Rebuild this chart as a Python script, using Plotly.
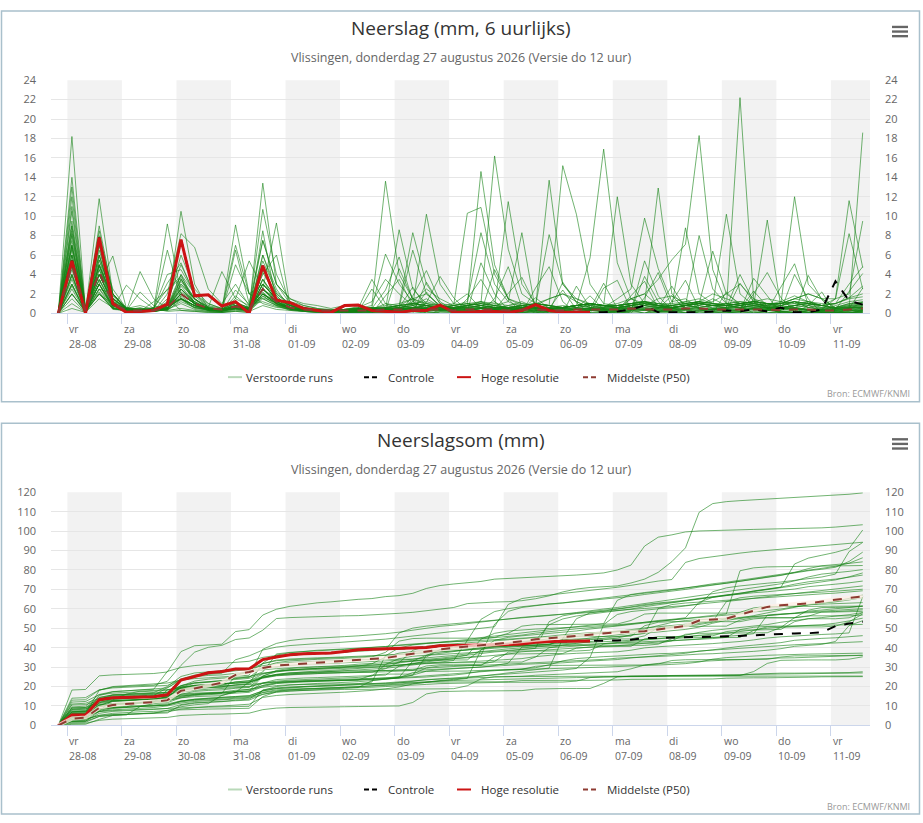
import numpy as np
import pandas as pd
import plotly.graph_objects as go

W, H = 923, 823

# tijdstappen (6 uurlijks, lokale tijd) en dagen op de x-as
tijden = pd.date_range("2026-08-27 20:00", periods=60, freq="6h")
dagen = pd.date_range("2026-08-28", periods=15, freq="D")
dag_namen = ["vr", "za", "zo", "ma", "di", "wo", "do", "vr", "za", "zo", "ma", "di", "wo", "do", "vr"]
dag_datums = [d.strftime("%d-%m") for d in dagen]

# hoge resolutie loopt 10 dagen (40 stappen)
hoge_resolutie = [0, 5.4, 0, 7.8, 1.0, 0.1, 0.2, 0.3, 0.95, 7.6, 1.8, 1.9, 0.75, 1.2, 0, 4.9, 1.35, 1.1, 0.5, 0.3,
                  0.1, 0.8, 0.85, 0.3, 0.2, 0.1, 0.3, 0.3, 0.85, 0.1, 0.1, 0.2, 0.2, 0.1, 0.3, 0.9, 0.3, 0.1, 0.1, 0.1]
# controle valt samen met hoge resolutie, daarna alleen controle
controle_staart = [0.1, 0.2, 0.4, 0.8, 0.1, 0.1, 0.1, 0.1, 0.2, 0.3, 0.2, 0.4, 0.2, 0.6, 0.1, 0.1, 0.4, 3.3, 1.3, 0.9]
controle = hoge_resolutie + controle_staart

middelste = [0, 5, 0.2, 4.3, 1, 0.3, 0.3, 0.3, 0.6, 2, 1, 0.5, 0.4, 0.7, 0.4, 2.5, 1.2, 0.6, 0.4, 0.3,
             0.3, 0.3, 0.3, 0.3, 0.4, 0.4, 0.4, 0.4, 0.4, 0.3, 0.4, 0.4, 0.4, 0.3, 0.4, 0.4, 0.3, 0.3, 0.4, 0.4,
             0.4, 0.4, 0.5, 0.4, 0.4, 0.4, 0.5, 0.5, 0.4, 0.4, 0.4, 0.4, 0.4, 0.3, 0.4, 0.4, 0.3, 0.3, 0.4, 0.5]
middelste_som = [0, 3.5, 4, 9, 10.5, 11, 11.5, 12, 13, 17.8, 19, 20.5, 22, 26, 27.5, 29.5, 30.8, 31.3, 31.8, 32.2,
                 32.8, 33.2, 33.6, 34.1, 34.7, 35.8, 37, 38.2, 39.1, 39.9, 40.6, 41.3, 41.9, 42.5, 43.3, 44.3, 44.9, 45.6, 46.2, 46.8,
                 47.4, 47.9, 48.2, 48.5, 49.4, 50.3, 51.2, 54, 54.6, 55, 57, 59, 61, 61.8, 62.3, 62.8, 63.8, 64.8, 65.6, 66.4]

# verstoorde runs (ensembleleden), mm per 6 uur
run_01 = [0, 18.2, 0.3, 7, 0.5, 0.3, 0.2, 0.2, 0.8, 10.5, 3, 0.5, 0.3, 6.5, 1, 7.5, 3, 1.5, 1, 0.8, 0.5, 0.8, 0.5, 0.4, 1, 0.5, 1.2, 2.5, 1.5, 0.8, 0.5, 0.8, 1.2, 0.3, 0.5, 0.2, 0.4, 0.3, 0.4, 0.5, 0.6, 1.5, 2.5, 9.8, 4.6, 1.2, 1.5, 0.5, 0.3, 0.2, 0.1, 0.2, 0.1, 0.1, 0.3, 0.1, 0.2, 0.4, 0.5, 0.7]
run_02 = [0, 13, 0.2, 5, 1.5, 0.5, 0.3, 0.2, 2, 8.2, 6.8, 2.5, 1, 3, 0.8, 4, 6, 0.5, 0.3, 0.2, 0.2, 0.2, 0.1, 0.3, 0.4, 0.5, 0.5, 0.8, 0.7, 1, 2, 0.5, 0.3, 0.2, 0.5, 1, 1.5, 2, 1.5, 0.8, 0.5, 0.3, 1.5, 2, 3.5, 5.5, 7.1, 18.3, 4.5, 1, 0.5, 0.4, 0.3, 0.3, 0.5, 0.3, 0.4, 0.5, 0.6, 0.7]
run_03 = [0, 3, 0.1, 2, 0.5, 0.2, 0.3, 0.2, 1.5, 0.3, 0.2, 0.1, 0.1, 0.2, 0.1, 6, 2.5, 0.5, 0.3, 0.2, 0.1, 0.1, 0, 0.1, 0.1, 0, 0, 0.1, 0, 0.1, 1.5, 3.5, 1.2, 0, 0.1, 0, 0, 0, 0.1, 0, 0, 0, 0, 0, 0.1, 0, 0, 0, 0, 0, 0, 0, 0, 0, 0, 0, 0, 0, 0, 0]
run_04 = [0, 2, 0.2, 4, 1, 0.5, 0.2, 0.3, 0.5, 2, 1, 0.3, 0.2, 0.5, 0.3, 3, 1.5, 0.8, 0.4, 0.3, 0.2, 0.3, 0.5, 0.2, 0.3, 0.4, 0.6, 0.8, 0.5, 0.3, 0.2, 0.1, 0.1, 0.2, 0.1, 0.3, 0.2, 0.1, 0.2, 0.1, 0.1, 0.1, 0.2, 0.3, 0.2, 0.1, 0.1, 0.3, 0.2, 0.1, 0, 0.1, 0, 0.1, 0.1, 0, 0.1, 0.1, 0, 0.1]
run_05 = [0, 4, 0.1, 3, 0.5, 0.3, 0.2, 0.5, 0.2, 0.3, 0.2, 0.1, 0.1, 0.2, 0.1, 8.5, 1, 0.5, 0.2, 0.1, 0.2, 0.1, 0.3, 0.2, 0.4, 0.5, 1, 0.8, 0.3, 0.2, 0.4, 0.3, 0.2, 0.1, 0.2, 0.5, 0.3, 0.2, 0.1, 0.3, 0.4, 0.5, 1.5, 2, 0.8, 0.4, 0.3, 0.2, 0.5, 0.3, 0.2, 0.4, 0.3, 0.2, 0.1, 0.3, 0.2, 0.2, 0.3, 0.3]
run_06 = [0, 6, 0.2, 5.5, 1, 0.3, 0.4, 0.2, 1, 1.5, 0.5, 0.3, 0.2, 1, 0.4, 2, 1.2, 0.6, 0.4, 0.2, 0.1, 0.2, 0.2, 0.1, 0.5, 0.3, 0.2, 0.4, 0.6, 0.4, 0.8, 1.2, 0.5, 0.3, 0.2, 0.1, 0.2, 0.1, 0.2, 0.3, 0.2, 0.2, 0.3, 0.4, 0.2, 0.3, 0.4, 0.8, 1.5, 0.8, 0.5, 0.3, 0.4, 0.2, 0.3, 0.1, 0.1, 0.1, 0.1, 0.2]
run_07 = [0, 1.5, 0.1, 3, 0.8, 0.2, 0.1, 0.3, 0.4, 4, 1, 0.5, 0.3, 0.8, 0.5, 4.5, 2, 0.8, 0.5, 0.3, 0.2, 0.3, 0.4, 0.6, 0.5, 0.8, 1.5, 2, 0.8, 0.5, 0.4, 0.3, 0.6, 0.5, 0.4, 0.3, 0.2, 0.3, 0.5, 0.4, 0.3, 0.5, 0.8, 0.6, 0.4, 0.6, 0.8, 1.2, 0.5, 0.4, 0.3, 0.5, 0.6, 0.4, 0.5, 0.3, 0.4, 0.2, 0.3, 0.4]
run_08 = [0, 8, 0.3, 4.5, 1.5, 0.5, 0.3, 0.2, 0.8, 3, 1.5, 0.4, 0.2, 0.5, 0.3, 2.5, 1.2, 0.5, 0.3, 0.2, 0.1, 0.1, 0.2, 0.3, 0.2, 0.3, 0.5, 0.4, 0.2, 0.3, 0.2, 0.5, 0.8, 1.2, 8.3, 0.3, 0.2, 0.2, 0.4, 0.5, 0.3, 0.2, 0.4, 0.3, 0.2, 0.2, 0.3, 0.5, 0.4, 0.6, 4, 1.2, 0.5, 0.2, 0.1, 0.2, 0.1, 0.1, 0.1, 0.2]
run_09 = [0, 10.5, 0.2, 2, 0.5, 2.9, 1.5, 0.5, 0.3, 0.5, 0.3, 0.2, 0.1, 0.4, 0.2, 1.5, 0.8, 0.4, 0.2, 0.3, 0.2, 0.2, 0.1, 0.2, 0.3, 0.4, 0.3, 0.5, 0.4, 0.5, 0.7, 0.6, 0.4, 0.3, 0.5, 0.8, 1.5, 2, 1.2, 0.6, 0.4, 0.3, 0.5, 0.4, 0.3, 0.2, 0.4, 0.6, 0.8, 1, 0.8, 0.6, 0.5, 0.8, 1.2, 0.6, 0.4, 0.3, 0.5, 0.6]
run_10 = [0, 5, 0.1, 8.5, 2, 0.4, 0.3, 0.2, 0.5, 2.5, 1, 0.4, 0.3, 1.2, 0.5, 3.5, 1.5, 0.8, 0.4, 0.2, 0.2, 0.3, 0.2, 0.4, 0.3, 0.5, 0.4, 0.3, 0.2, 0.2, 0.3, 0.5, 0.4, 0.3, 0.6, 1, 0.8, 0.5, 0.4, 0.3, 0.2, 0.3, 0.8, 1.2, 0.6, 0.5, 0.4, 0.3, 0.4, 0.5, 0.6, 0.8, 1, 0.6, 0.5, 0.4, 0.3, 0.3, 0.5, 18.6]
run_11 = [0, 3.5, 0.2, 6, 1.2, 0.3, 0.2, 0.4, 6.5, 1.5, 0.8, 0.4, 0.3, 0.6, 0.4, 2, 1.2, 0.5, 0.3, 0.2, 0.3, 0.4, 0.5, 0.3, 0.2, 0.3, 0.4, 0.6, 0.5, 0.4, 0.3, 0.2, 0.3, 0.4, 0.5, 0.3, 0.2, 0.3, 0.2, 0.4, 0.5, 0.6, 0.4, 0.3, 0.2, 0.3, 0.5, 0.4, 0.2, 0.3, 0.4, 0.5, 0.6, 0.8, 1.2, 0.6, 0.4, 1.5, 8.2, 2.5]
run_12 = [0, 7, 0.3, 4, 1, 0.5, 0.4, 0.3, 1.2, 5, 2, 0.6, 0.4, 1.5, 0.8, 2.5, 9.3, 0.8, 0.5, 0.4, 0.3, 0.3, 0.4, 0.5, 0.6, 0.8, 0.6, 0.4, 0.3, 0.4, 0.5, 0.3, 0.2, 0.3, 0.4, 0.5, 0.6, 0.8, 0.6, 0.4, 0.3, 0.4, 0.5, 0.8, 1.5, 1.8, 1, 0.5, 0.4, 0.3, 0.4, 0.5, 0.4, 0.5, 0.6, 0.8, 0.5, 0.3, 0.4, 0.5]
run_13 = [0, 4.5, 0.2, 5, 0.8, 0.5, 0.8, 0.4, 0.3, 3.5, 1.5, 0.5, 0.3, 0.8, 0.4, 6, 2, 1, 0.6, 0.3, 0.2, 0.3, 0.6, 1.2, 3.5, 2, 0.8, 0.4, 0.3, 0.4, 0.3, 0.5, 0.6, 0.4, 0.3, 0.2, 0.3, 0.4, 0.5, 0.3, 0.2, 0.3, 0.4, 0.5, 0.3, 0.4, 0.6, 0.8, 0.5, 0.6, 0.8, 1, 0.7, 0.5, 0.6, 0.4, 0.3, 0.8, 1.2, 1.4]
run_14 = [0, 9, 0.2, 3, 0.6, 0.2, 0.3, 0.2, 0.8, 6, 2.5, 1, 0.5, 0.5, 0.3, 1.8, 0.9, 0.4, 0.3, 0.2, 0.2, 0.3, 0.2, 0.4, 0.5, 0.6, 0.8, 1.5, 0.7, 0.5, 0.4, 0.6, 0.5, 0.8, 1.2, 0.6, 0.4, 0.5, 0.4, 0.3, 0.4, 0.5, 0.6, 0.8, 0.6, 0.5, 0.4, 0.6, 0.8, 0.5, 0.6, 0.8, 9.6, 0.6, 0.4, 0.3, 0.2, 0.3, 0.4, 0.5]
run_15 = [0, 2.5, 0.1, 9, 2, 0.4, 0.3, 0.3, 0.5, 2, 1, 0.5, 0.4, 0.5, 0.3, 2, 1, 0.5, 0.3, 0.2, 0.2, 0.3, 0.4, 0.6, 6.1, 3, 1.2, 0.5, 0.4, 0.3, 0.4, 0.5, 0.4, 0.5, 0.6, 0.5, 0.4, 0.3, 0.4, 0.6, 0.5, 0.6, 0.8, 0.6, 0.5, 0.8, 1.2, 1.5, 1, 0.8, 0.6, 0.7, 0.9, 1.2, 1, 0.8, 0.6, 0.6, 0.9, 1.1]
run_16 = [0, 12, 0.3, 3.5, 0.8, 0.4, 0.2, 0.3, 0.5, 1.5, 0.8, 0.4, 0.3, 5, 2, 1.5, 0.8, 0.6, 0.4, 0.3, 0.2, 0.2, 0.3, 0.3, 0.4, 0.5, 0.6, 0.8, 0.5, 0.6, 0.8, 1.2, 0.8, 0.6, 0.5, 0.4, 0.5, 0.6, 0.8, 1, 0.8, 1, 1.5, 1, 0.6, 0.5, 0.8, 1.2, 2, 1.5, 1, 0.8, 0.6, 0.5, 0.8, 1, 0.6, 0.5, 0.6, 0.8]
run_17 = [0, 6.5, 0.2, 6, 1.5, 0.3, 0.4, 0.5, 4, 4.5, 2, 0.8, 0.5, 1, 0.6, 3, 1.5, 0.5, 0.4, 0.3, 0.2, 0.3, 0.2, 0.4, 0.3, 0.4, 0.5, 0.6, 0.4, 0.5, 0.6, 0.8, 0.6, 0.5, 0.6, 0.8, 0.5, 0.6, 0.8, 0.9, 0.7, 0.8, 1, 1.2, 0.8, 0.6, 0.8, 1, 1.2, 2, 3, 1.5, 1, 0.6, 0.5, 0.4, 0.3, 0.2, 0.3, 0.3]
run_18 = [0, 5.5, 0.2, 4.5, 1, 0.3, 0.5, 0.4, 0.6, 2, 1, 0.5, 0.3, 0.6, 0.4, 7.5, 3, 1, 0.5, 0.3, 0.2, 0.2, 0.3, 0.3, 0.5, 0.6, 6.5, 2, 0.8, 0.5, 0.4, 0.6, 0.5, 0.4, 0.5, 0.6, 0.5, 0.4, 0.6, 0.5, 0.6, 0.8, 1, 0.8, 0.6, 0.5, 0.8, 1, 0.8, 0.6, 0.8, 1.2, 1.5, 1.2, 1.8, 1.2, 0.8, 0.6, 1, 1.2]
run_19 = [0, 3, 0.1, 7, 2.5, 0.5, 0.3, 0.2, 0.4, 1.2, 0.6, 0.4, 0.3, 9.1, 2, 1, 0.6, 0.5, 0.3, 0.2, 0.3, 0.4, 0.6, 0.5, 0.3, 0.4, 0.3, 0.5, 0.6, 0.8, 1.2, 8.3, 3, 1.2, 0.6, 0.4, 0.3, 0.3, 0.4, 0.5, 0.3, 0.4, 0.6, 0.8, 0.5, 0.6, 0.8, 0.6, 0.4, 0.5, 0.8, 1, 0.7, 0.8, 1.2, 1, 0.8, 1, 1.5, 1.7]
run_20 = [0, 14, 0.3, 4, 1, 0.3, 0.2, 0.3, 0.5, 3, 1.5, 0.6, 0.3, 0.8, 0.5, 4.5, 1.8, 0.6, 0.4, 0.2, 0.2, 0.2, 0.3, 0.4, 0.3, 0.4, 0.5, 0.4, 0.3, 0.4, 0.5, 0.6, 0.4, 0.5, 0.6, 0.5, 0.4, 0.6, 0.8, 1, 0.8, 0.6, 0.8, 1, 12.9, 2, 0.8, 0.5, 0.4, 0.5, 0.6, 0.5, 0.4, 0.5, 0.6, 0.4, 0.3, 0.4, 0.6, 0.6]
run_21 = [0, 2, 0.1, 2.5, 0.5, 0.3, 4.3, 1.5, 0.5, 2.5, 1.2, 0.4, 0.3, 0.5, 0.4, 3, 1.5, 0.5, 0.3, 0.3, 0.2, 0.3, 0.4, 0.5, 0.4, 0.6, 0.8, 10.2, 3, 1, 0.8, 0.6, 0.5, 0.6, 0.8, 0.6, 0.5, 0.6, 0.8, 1, 0.8, 0.6, 0.5, 0.4, 0.6, 0.8, 1, 1.2, 0.8, 10.2, 2, 0.8, 0.5, 0.4, 0.5, 0.4, 0.3, 0.4, 0.5, 0.6]
run_22 = [0, 7.5, 0.2, 5.5, 2, 0.3, 0.2, 0.4, 0.8, 3.5, 1.5, 0.6, 0.4, 0.8, 0.5, 2.5, 1.2, 0.6, 0.4, 0.3, 0.3, 0.4, 0.5, 0.4, 0.6, 0.8, 1, 0.8, 0.6, 0.8, 1, 0.8, 0.6, 0.5, 0.8, 0.6, 13.7, 3, 1.2, 0.6, 0.4, 0.5, 0.6, 0.5, 0.4, 0.5, 0.6, 0.8, 0.6, 0.6, 0.8, 1, 0.8, 0.6, 0.8, 1, 0.8, 0.5, 0.8, 1]
run_23 = [0, 4, 0.3, 3, 5.9, 0.5, 0.4, 0.6, 0.8, 2.5, 1, 0.5, 0.4, 1, 0.6, 10.7, 4, 1.2, 0.8, 0.5, 0.3, 0.3, 0.4, 0.5, 0.4, 0.5, 0.6, 0.5, 0.4, 0.5, 0.6, 0.8, 0.6, 0.6, 0.8, 1, 0.8, 0.6, 0.8, 0.6, 0.5, 0.6, 0.8, 1, 0.8, 0.6, 0.8, 8, 2.5, 1, 0.8, 0.6, 0.5, 0.6, 0.8, 1.2, 0.8, 0.5, 0.7, 0.9]
run_24 = [0, 9.5, 0.4, 6, 1.5, 0.4, 0.3, 0.5, 9.2, 2, 1, 0.5, 0.4, 0.8, 0.5, 2, 1, 0.5, 0.4, 0.3, 0.2, 0.3, 0.4, 0.5, 0.4, 8.6, 2.5, 1, 0.6, 0.5, 0.6, 0.8, 0.6, 0.5, 0.6, 0.8, 0.6, 0.5, 0.6, 0.8, 0.6, 0.8, 1, 1.2, 0.8, 0.6, 0.8, 1, 0.8, 0.8, 1, 1.2, 1, 1, 1.5, 1.2, 0.8, 0.6, 1, 1.1]
run_25 = [0, 6, 0.2, 11.8, 2, 0.5, 0.4, 0.3, 0.6, 1.5, 0.8, 0.4, 0.3, 0.6, 0.4, 13.4, 3, 1.5, 0.8, 0.5, 0.4, 0.3, 0.4, 0.5, 0.6, 0.8, 1, 1.2, 0.8, 0.6, 0.8, 1, 0.8, 0.6, 0.8, 0.6, 0.5, 0.6, 0.8, 1, 0.8, 0.8, 1, 1.2, 1, 0.8, 1, 1.2, 1, 0.8, 1, 1.2, 1, 1, 1.5, 2, 1.5, 0.6, 0.8, 0.9]
run_26 = [0, 5, 0.1, 3.5, 1, 0.3, 0.2, 0.4, 0.6, 1.5, 0.6, 0.4, 0.3, 0.5, 0.4, 2, 1, 0.5, 0.4, 0.3, 0.2, 0.3, 0.4, 0.5, 0.4, 0.5, 0.6, 0.5, 0.4, 0.6, 0.8, 14.6, 5, 1.5, 0.8, 0.6, 0.5, 0.6, 0.8, 1, 0.8, 0.6, 0.8, 1, 0.8, 0.6, 0.8, 1, 0.8, 0.6, 22.2, 1.5, 0.5, 0.1, 0.1, 0.1, 0.1, 0.1, 0.1, 0.1]
run_27 = [0, 3, 0.2, 2, 1, 0.5, 0.3, 0.2, 0.4, 2, 1, 0.6, 4.3, 1.5, 5.4, 2.5, 1, 0.6, 0.4, 0.3, 0.3, 0.4, 0.5, 0.4, 0.6, 0.8, 1, 0.8, 0.6, 0.8, 10.3, 10.9, 4, 1.5, 1, 0.8, 0.6, 0.5, 0.6, 0.8, 0.6, 0.6, 0.8, 1, 0.8, 0.8, 1, 1.2, 1, 1, 1.2, 1, 0.8, 1, 1.5, 2, 1.5, 0.5, 0.7, 0.8]
run_28 = [0, 8.5, 0.3, 4, 1.2, 0.4, 0.3, 0.2, 0.5, 2.5, 1.2, 0.5, 0.3, 0.8, 0.5, 3.5, 1.5, 0.8, 0.6, 0.4, 0.3, 0.4, 0.5, 0.6, 0.5, 0.6, 0.8, 1, 0.8, 0.6, 0.8, 1, 16.2, 6.6, 2, 1, 0.8, 0.6, 0.8, 1, 0.8, 0.6, 0.8, 1, 0.8, 0.8, 1, 1.2, 1, 0.8, 1, 1.2, 1, 0.8, 1, 1.2, 1, 1, 1.6, 2.8]
run_29 = [0, 2, 0.2, 5, 1.5, 0.6, 0.4, 0.3, 0.5, 2, 1, 0.5, 0.3, 0.6, 0.4, 2.5, 1.2, 0.6, 0.4, 0.3, 0.3, 0.4, 0.5, 0.8, 13.6, 4, 1.5, 0.8, 0.6, 0.6, 0.8, 1, 0.8, 0.6, 0.8, 1, 0.8, 0.6, 0.8, 1, 0.8, 12, 3, 1, 0.8, 0.6, 0.8, 1, 0.8, 0.8, 1, 1.2, 1, 1, 1.2, 1, 0.8, 1, 3, 4.8]
run_30 = [0, 7, 0.3, 8, 2, 0.5, 0.4, 0.3, 0.8, 4, 2, 1, 0.5, 7, 2, 3, 1.5, 0.8, 0.6, 0.4, 0.3, 0.4, 0.5, 0.6, 0.5, 0.8, 1, 0.8, 0.6, 0.8, 1, 0.8, 0.6, 11.5, 3, 1, 0.8, 0.6, 0.8, 1, 0.8, 0.8, 1, 1.2, 1, 0.8, 8.8, 2, 1, 0.8, 1, 0.8, 0.6, 0.6, 0.8, 0.6, 0.5, 0.5, 0.6, 0.6]
run_31 = [0, 4, 0.2, 3, 0.8, 0.4, 0.3, 0.5, 0.8, 1.5, 0.8, 0.4, 0.3, 0.6, 0.4, 2, 1, 0.6, 0.4, 0.3, 0.3, 0.4, 0.5, 3.5, 1, 0.8, 8.3, 3, 1, 0.8, 1, 1.2, 1, 0.8, 1, 0.8, 8.1, 3, 1.5, 1, 0.8, 0.8, 1, 1.2, 1, 1, 1.2, 1, 0.8, 1, 1.2, 1, 0.8, 1, 12, 3, 1.5, 1.5, 2, 9.5]
run_32 = [0, 0.5, 0.1, 2.5, 2, 0.5, 0.3, 0.4, 0.6, 1.5, 0.8, 0.5, 0.3, 0.5, 0.4, 3.5, 1, 0.5, 0.4, 0.3, 0.2, 0.3, 0.4, 0.5, 0.8, 1, 1.5, 1, 0.8, 0.6, 0.8, 1, 0.8, 0.6, 0.8, 1, 0.8, 15.2, 10.2, 3, 1, 0.8, 1, 1.2, 0.8, 0.6, 0.8, 1, 0.8, 0.8, 1, 1.2, 1, 1, 1.2, 1, 0.8, 1, 1.6, 2]
run_33 = [0, 6, 0.2, 2, 0.8, 0.4, 0.3, 0.2, 0.5, 2, 1, 0.5, 0.3, 0.6, 0.4, 2.5, 1.2, 0.5, 0.4, 0.3, 0.2, 0.3, 0.4, 0.5, 0.4, 0.5, 0.6, 0.5, 0.4, 0.5, 0.6, 0.5, 0.4, 0.5, 0.6, 0.5, 0.4, 0.6, 0.8, 5.7, 16.9, 5.2, 1.5, 0.8, 0.6, 0.6, 0.8, 1, 6.4, 2, 1, 0.8, 0.6, 0.6, 0.8, 1, 0.8, 1.5, 11.6, 4.7]
run_34 = [0, 5.5, 0.1, 4, 1.2, 0.2, 0.5, 0.3, 0.6, 2.2, 1.2, 0.5, 0.3, 0.7, 0.3, 3, 1.4, 0.6, 0.3, 0.2, 0.1, 0, 0.2, 2.5, 0.5, 0, 0, 3.2, 1, 0.2, 0, 0, 4.5, 1.5, 0, 0.2, 0, 0, 2.8, 0.6, 0, 0, 0.3, 3.8, 1.2, 0, 0, 0.4, 0, 2.2, 0.8, 0, 0, 0.3, 4, 1.5, 0, 0, 0.5, 2.6]
run_35 = [0, 7, 0.2, 3, 0.8, 0.4, 0.2, 0.6, 2.5, 3.8, 1.5, 0.4, 0.2, 1.8, 0.6, 2.2, 0.9, 0.5, 0.4, 0.2, 0.1, 0.1, 0, 0, 1.8, 3.5, 0.8, 0, 0, 0, 0.2, 5.2, 2, 0.3, 0, 0, 0.5, 2.4, 0.4, 0, 0, 0, 0, 1.6, 4.2, 0.6, 0, 0, 0, 0.2, 3.1, 1.2, 0, 0, 0, 0.8, 2.2, 0, 0, 0.3]
run_36 = [0, 1, 0.1, 1.5, 0.6, 0.2, 0.1, 0.2, 0.4, 1, 0.4, 0.2, 0.1, 0.3, 0.2, 1.8, 0.8, 0.3, 0.2, 0.1, 0.1, 0, 0.1, 0.2, 0.1, 0, 1.8, 4.4, 1.2, 0.3, 0, 0, 0, 0, 0.2, 0.8, 0.3, 0, 0, 0, 2.6, 3.4, 0.4, 0, 0, 0, 0, 0.2, 0.1, 0, 0, 2, 4.2, 1.6, 0.2, 0, 0, 0, 0.4, 1.2]
run_37 = [0, 11, 0.4, 2.5, 0.9, 0.3, 0.6, 0.2, 0.5, 2.8, 1.1, 0.5, 0.4, 0.6, 0.5, 2.4, 1.6, 0.8, 0.3, 0.2, 0.2, 0.2, 0.1, 0, 0, 0, 0.3, 2.2, 0.6, 0, 0, 0.2, 1.5, 4.8, 0.6, 0, 0, 0, 0, 0.4, 3.1, 0.5, 0, 0, 0, 1.2, 3.4, 0.5, 0, 0, 0, 0, 0.3, 2.7, 5.1, 0.9, 0, 0, 0, 0.4]
run_38 = [0, 3.8, 0.2, 6.5, 1.8, 0.6, 0.3, 0.2, 0.4, 1.8, 0.7, 0.3, 0.2, 0.5, 0.3, 4.2, 1.8, 0.5, 0.3, 0.2, 0.2, 0.2, 0.4, 0.3, 0.2, 4.6, 1.5, 0.2, 0, 0, 0, 0.1, 0.3, 0, 0, 2.6, 4.8, 1.2, 0, 0, 0, 0, 0, 0, 0.6, 2.8, 0.5, 0, 0, 0, 0.2, 3.6, 1.8, 0, 0, 0, 0, 0.4, 2.2, 4.1]
run_39 = [0, 9, 0.2, 5, 1.6, 0.4, 0.3, 0.4, 3.1, 5.2, 1.8, 0.6, 0.3, 0.8, 0.4, 1.6, 1.1, 0.6, 0.4, 0.3, 0.2, 0.3, 0.2, 0.1, 0, 0, 0.2, 1.1, 3.8, 1.6, 0.2, 0, 0, 0, 0, 0.4, 0.2, 3.2, 1.1, 0, 0, 0, 0.2, 5.4, 1.8, 0.3, 0, 0, 0, 0, 0, 1.4, 0.6, 0, 0, 3.9, 1.4, 0, 0.2, 0.6]
run_40 = [0, 4.8, 0.3, 3.4, 0.7, 0.3, 2.2, 0.8, 0.3, 1.4, 0.6, 0.3, 0.2, 2.4, 0.9, 1.2, 0.7, 0.4, 0.2, 0.1, 0.1, 0, 0, 0.1, 0.2, 0.5, 0.2, 0, 0, 0, 0, 0, 0, 0.2, 0.6, 0.1, 0, 0, 0, 0, 0, 0.2, 0.3, 0, 0, 0, 0, 0, 0.2, 0.4, 0.2, 0, 0, 0, 0, 0.3, 0.2, 0, 0, 0.1]
run_41 = [0, 6.8, 0.1, 7.6, 1.1, 0.2, 0.4, 0.3, 0.7, 3.3, 1.4, 0.7, 0.4, 1.1, 0.6, 5.4, 2.2, 0.9, 0.5, 0.3, 0.2, 0.2, 0.3, 0.5, 2.4, 5.8, 1.3, 0.2, 0, 0, 0, 0, 0.4, 2.1, 3.7, 0.8, 0, 0, 0, 0, 0, 0.3, 1.8, 3.3, 0.5, 0, 0, 0, 0, 0, 0.4, 2.3, 0.7, 0, 0, 0, 0, 0, 0, 0.2]
run_42 = [0, 2.8, 0.2, 4.8, 1.3, 0.4, 0.2, 0.3, 0.5, 1.6, 0.8, 0.3, 0.2, 0.6, 0.4, 2.6, 1.3, 0.4, 0.3, 0.2, 0.1, 0, 0.1, 0.2, 0.4, 0.3, 0.2, 0.6, 0.4, 0.2, 0, 0.3, 0.2, 0, 0, 0, 0.1, 0, 0.5, 1.8, 0.4, 0, 0, 0, 0.2, 0.3, 0.1, 0, 0, 0, 0.2, 0.6, 0.3, 0.2, 0, 0, 0, 0.1, 0.2, 0.4]
run_43 = [0, 8.2, 0.3, 2.2, 0.4, 0.3, 0.2, 1.2, 2.4, 3.6, 0.9, 0.4, 0.3, 0.4, 0.2, 0.8, 0.4, 0.3, 0.2, 0.1, 0.1, 0, 0.3, 0.5, 0.2, 0.6, 2.7, 0.6, 0, 0, 0.2, 0.3, 0.1, 0, 0.4, 1.6, 0.5, 0, 0, 0, 0, 0.2, 0, 0, 0.5, 1.8, 0.4, 0, 0, 0, 0, 0, 0.2, 1.2, 0.6, 0, 0, 0, 0, 0.3]

runs = [run_01, run_02, run_03, run_04, run_05, run_06, run_07, run_08, run_09, run_10, run_11,
        run_12, run_13, run_14, run_15, run_16, run_17, run_18, run_19, run_20, run_21, run_22,
        run_23, run_24, run_25, run_26, run_27, run_28, run_29, run_30, run_31, run_32, run_33,
        run_34, run_35, run_36, run_37, run_38, run_39, run_40, run_41, run_42, run_43]

GROEN = "rgba(20,130,20,0.6)"
ROOD = "#cc1414"
BRUIN = "#8e3b32"
RAND = "#a9c0cc"
AS_KLEUR = "#ccd6eb"
TEKST = "#666666"
FONT = "Open Sans"


def px(x):
    return x / W


def py(y):
    return 1 - y / H


t_start = tijden[0] - pd.Timedelta(hours=3.2)
t_eind = tijden[-1] + pd.Timedelta(hours=3.2)

fig = go.Figure()

# paneel 1: 6 uurlijkse neerslag, paneel 2: cumulatief
for paneel, (xa, ya) in enumerate([("x", "y"), ("x2", "y2")]):
    som = paneel == 1
    for run in runs:
        waarden = np.cumsum(run) if som else run
        fig.add_trace(go.Scatter(x=tijden, y=waarden, xaxis=xa, yaxis=ya, mode="lines",
                                 line=dict(color=GROEN, width=1), showlegend=False, hoverinfo="skip"))
    c = np.cumsum(controle) if som else controle
    fig.add_trace(go.Scatter(x=tijden, y=c, xaxis=xa, yaxis=ya, mode="lines",
                             line=dict(color="black", width=2, dash="dash"), showlegend=False))
    hr = np.cumsum(hoge_resolutie) if som else hoge_resolutie
    fig.add_trace(go.Scatter(x=tijden[:len(hoge_resolutie)], y=hr, xaxis=xa, yaxis=ya, mode="lines",
                             line=dict(color=ROOD, width=3), showlegend=False))
    mid = middelste_som if som else middelste
    if som:
        fig.add_trace(go.Scatter(x=tijden, y=mid, xaxis=xa, yaxis=ya, mode="lines",
                                 line=dict(color="rgba(255,238,228,0.75)", width=4),
                                 showlegend=False, hoverinfo="skip"))
    fig.add_trace(go.Scatter(x=tijden, y=mid, xaxis=xa, yaxis=ya, mode="lines",
                             line=dict(color=BRUIN, width=2, dash="dash"), showlegend=False))

# onzichtbare sporen voor de rechter y-assen
fig.add_trace(go.Scatter(x=[tijden[0]], y=[0], xaxis="x", yaxis="y3", mode="lines",
                         line=dict(width=0), showlegend=False, hoverinfo="skip"))
fig.add_trace(go.Scatter(x=[tijden[0]], y=[0], xaxis="x2", yaxis="y4", mode="lines",
                         line=dict(width=0), showlegend=False, hoverinfo="skip"))

xas = dict(type="date", range=[t_start, t_eind], domain=[px(51), px(870)],
           tickmode="array", tickvals=dagen, showticklabels=False,
           ticks="outside", ticklen=10, tickcolor=AS_KLEUR, showline=True, linecolor=AS_KLEUR,
           showgrid=False, zeroline=False, fixedrange=True)
yas = dict(tickfont=dict(size=11, color=TEKST, family=FONT), gridcolor="#e6e6e6",
           zeroline=False, showline=False, fixedrange=True, ticklabelstandoff=14)

boven = [py(311), py(73.5)]
onder = [py(730.7), py(493.3)]

fig.update_layout(
    width=W, height=H, autosize=False,
    margin=dict(l=0, r=0, t=0, b=0),
    paper_bgcolor="white", plot_bgcolor="white",
    font=dict(family=FONT, color=TEKST),
    showlegend=False,
    xaxis=dict(xas, anchor="y"),
    xaxis2=dict(xas, anchor="y2"),
    yaxis=dict(yas, domain=boven, range=[0, 24], dtick=2, anchor="x"),
    yaxis2=dict(yas, domain=onder, range=[0, 120], dtick=10, anchor="x2"),
    yaxis3=dict(yas, domain=boven, range=[0, 24], dtick=2, anchor="x", overlaying="y",
                side="right", showgrid=False),
    yaxis4=dict(yas, domain=onder, range=[0, 120], dtick=10, anchor="x2", overlaying="y2",
                side="right", showgrid=False),
)

shapes = []
annotations = []

# dag-banden om en om
for xref, yref in [("x", "y domain"), ("x2", "y2 domain")]:
    for k in range(0, len(dagen), 2):
        x1 = min(dagen[k] + pd.Timedelta(days=1), t_eind)
        shapes.append(dict(type="rect", xref=xref, yref=yref, x0=dagen[k], x1=x1, y0=0, y1=1,
                           fillcolor="#f2f2f2", line=dict(width=0), layer="below"))

titels = ["Neerslag (mm, 6 uurlijks)", "Neerslagsom (mm)"]
ondertitel = "Vlissingen, donderdag 27 augustus 2026 (Versie do 12 uur)"
legenda = [("Verstoorde runs", "#b9d9b9", None, 228, 244),
           ("Controle", "black", "5px,3px", 364, 386),
           ("Hoge resolutie", ROOD, None, 457, 479),
           ("Middelste (P50)", BRUIN, "5px,3px", 583, 605)]


def tekst(t, x, y, size, kleur, xref="paper", xanchor="center"):
    return dict(text=t, xref=xref, yref="paper", x=x, y=py(y), xanchor=xanchor, yanchor="middle",
                showarrow=False, font=dict(size=size, color=kleur, family=FONT))


for paneel in range(2):
    dy = paneel * 420
    xref = "x" if paneel == 0 else "x2"
    # kader
    shapes.append(dict(type="rect", xref="paper", yref="paper", x0=px(1.5), x1=px(919.5),
                       y0=py(3 + dy), y1=py(401 + dy),
                       line=dict(color=RAND, width=1.5), fillcolor="rgba(0,0,0,0)", layer="above"))
    # menu-icoon
    for yb in [19.3, 24, 28.7]:
        shapes.append(dict(type="rect", xref="paper", yref="paper", x0=px(892), x1=px(908),
                           y0=py(yb + dy + 1.2), y1=py(yb + dy - 1.2),
                           fillcolor="#666666", line=dict(width=0)))
    annotations.append(tekst(titels[paneel], px(461), 20 + dy, 19, "#333333"))
    annotations.append(tekst(ondertitel, px(461), 50 + dy, 12.5, TEKST))
    # daglabels
    for k in range(len(dagen)):
        annotations.append(tekst(dag_namen[k], dagen[k], 327 + dy, 10.5, TEKST, xref=xref, xanchor="left"))
        annotations.append(tekst(dag_datums[k], dagen[k], 342 + dy, 10.5, TEKST, xref=xref, xanchor="left"))
    # legenda
    for naam, kleur, stijl, x_sym, x_tekst in legenda:
        shapes.append(dict(type="line", xref="paper", yref="paper", x0=px(x_sym), x1=px(x_sym + 14),
                           y0=py(376 + dy), y1=py(376 + dy),
                           line=dict(color=kleur, width=2, dash=stijl or "solid")))
        annotations.append(tekst(naam, px(x_tekst), 376 + dy, 11.5, "#333333", xanchor="left"))
    annotations.append(tekst("Bron: ECMWF/KNMI", px(912), 393 + dy, 9, "#999999", xanchor="right"))

fig.update_layout(shapes=shapes, annotations=annotations)

# zonder marge van de pagina, zodat de figuur het venster precies vult
fig.write_html("out.html", config={"displayModeBar": False},
               post_script="document.body.style.margin='0px';")
